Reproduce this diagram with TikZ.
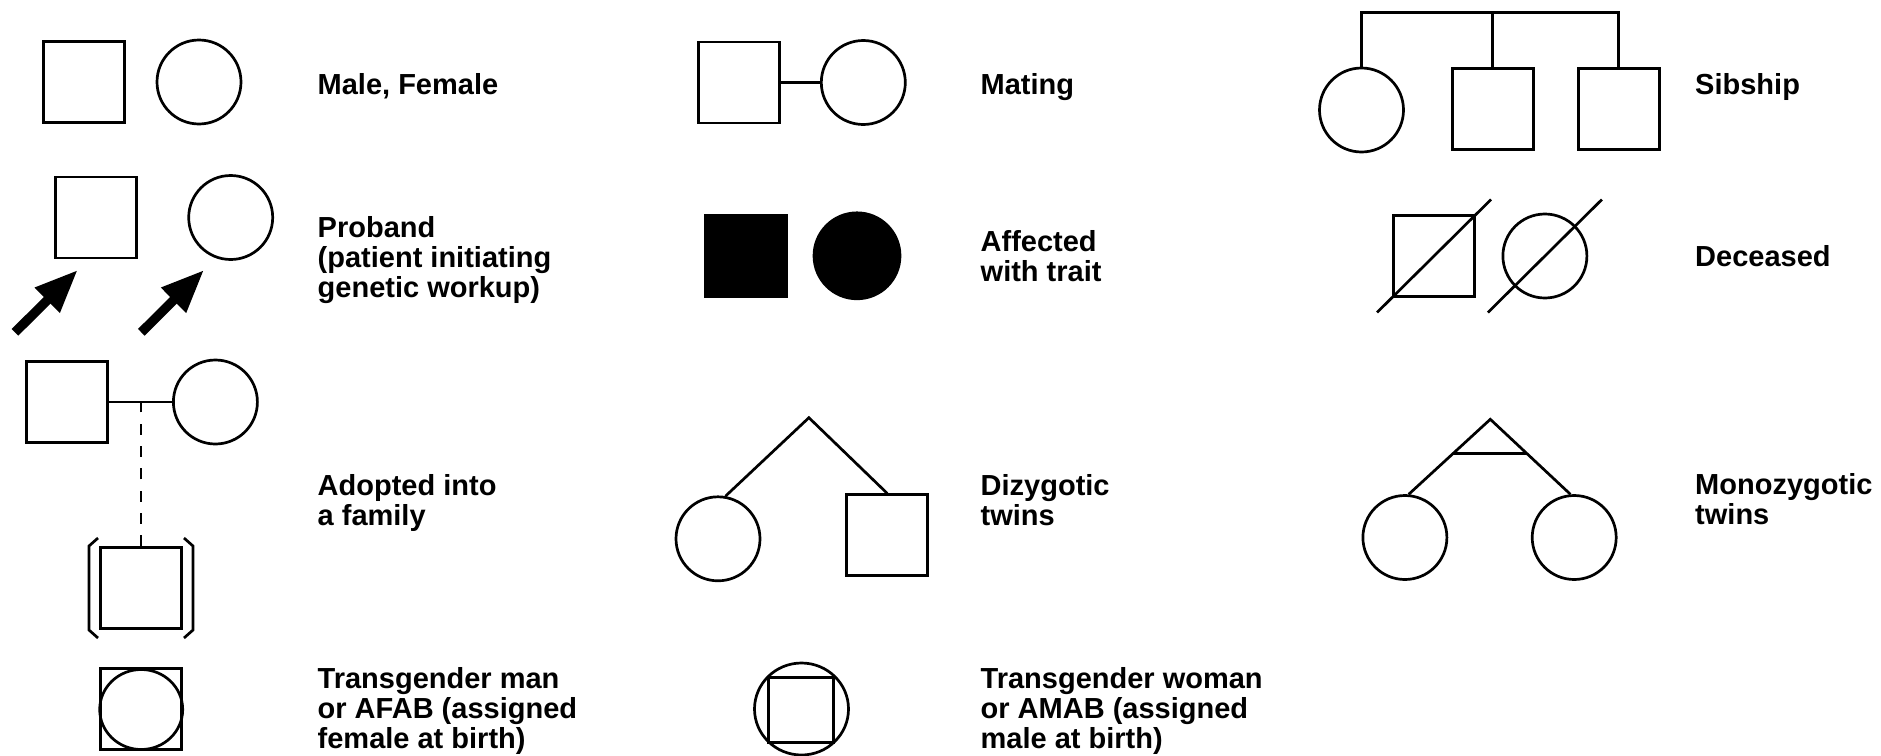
\documentclass[tikz,border=0pt]{standalone}
\usepackage{fontspec}
\setmainfont{Liberation Sans}
\usetikzlibrary{arrows.meta,shapes.geometric,calc}
\begin{document}
\begin{tikzpicture}[x=1pt,y=-1pt,
  lw/.style={line width=2.7pt},
  male/.style={draw,lw,rectangle,minimum width=81pt,minimum height=81pt,inner sep=0pt},
  female/.style={draw,lw,circle,minimum size=84pt,inner sep=0pt},
  aff/.style={fill=black},
  link/.style={lw},
  lbl/.style={anchor=base west,inner sep=0pt,font=\fontsize{29}{30}\selectfont\bfseries},
  proarrow/.style={line width=9.4pt,-{Triangle[length=43pt,width=33pt]}},
]
\useasboundingbox (0,0) rectangle (1881,755);

% ---- Male, Female
\node[male] (m1) at (83.7,82.2) {};
\node[female] (f1) at (199,82) {};
\node[lbl] (t1) at (317.5,94.3) {Male, Female};

% ---- Proband
\node[male] (pm) at (96,217.5) {};
\node[female] (pf) at (230.7,217.5) {};
\coordinate (a1s) at (15,332.3);
\coordinate (a1e) at (77.7,270);
\coordinate (a2s) at (141.3,332.3);
\coordinate (a2e) at (204,270);
\draw[proarrow] (a1s) -- (a1e);
\draw[proarrow] (a2s) -- (a2e);
\node[lbl] (t2) at (317.5,237) {\vtop{\hbox{Proband}\hbox{(patient initiating}\hbox{genetic workup)}}};

% ---- Adopted
\node[male] (am) at (67.3,402) {};
\node[female] (af) at (215.4,402) {};
\draw[link] (am) -- (af);
\coordinate (ac) at (141,402);
\node[male] (ach) at (141,588) {};
\draw[link,dash pattern=on 11pt off 11.3pt] (ach.north) -- (ac);
\draw[lw] ($(ach.center)+(-43,-50)$) -- ++(-9,8) -- ++(0,84) -- ++(9,8);
\draw[lw] ($(ach.center)+(43,-50)$) -- ++(9,8) -- ++(0,84) -- ++(-9,8);
\node[lbl] (t3) at (317.5,495) {\vtop{\hbox{Adopted into}\hbox{a family}}};

% ---- Transgender man
\node[male] (tm) at (141.2,709) {};
\node[draw,lw,ellipse,minimum width=83pt,minimum height=80pt,inner sep=0pt] (tmc) at (141.2,709.5) {};
\node[lbl] (t4) at (317.5,688.5) {\vtop{\hbox{Transgender man}\hbox{or AFAB (assigned}\hbox{female at birth)}}};

% ---- Mating
\node[male] (mm) at (739,82.5) {};
\node[female] (mf) at (863.3,82.5) {};
\draw[link] (mm) -- (mf);
\node[lbl] (t5) at (980.5,94.3) {Mating};

% ---- Affected
\node[male,aff] (fm) at (746,255.8) {};
\node[female,aff,minimum size=86pt] (ff) at (857,255.8) {};
\node[lbl] (t6) at (980.5,251) {\vtop{\hbox{Affected}\hbox{with trait}}};

% ---- Dizygotic
\node[female] (dzf) at (718,538.8) {};
\node[male] (dzm) at (887.2,535.2) {};
\coordinate (dza) at (808.9,417.7);
\draw[link] (dzf.80) -- (dza) -- (dzm.north);
\node[lbl] (t7) at (980.5,495) {\vtop{\hbox{Dizygotic}\hbox{twins}}};

% ---- Transgender woman
\node[draw,lw,ellipse,minimum width=94pt,minimum height=92pt,inner sep=0pt] (tw) at (801.5,709) {};
\node[draw,lw,rectangle,minimum size=65pt,inner sep=0pt] (twm) at (801,710) {};
\node[lbl] (t8) at (980.5,688.5) {\vtop{\hbox{Transgender woman}\hbox{or AMAB (assigned}\hbox{male at birth)}}};

% ---- Sibship
\node[female] (s1) at (1361.5,110) {};
\node[male] (s2) at (1492.7,109.2) {};
\node[male] (s3) at (1618.8,109.2) {};
\coordinate (sb1) at (1361.5,12.7);
\coordinate (sb2) at (1492.7,12.7);
\coordinate (sb3) at (1618.8,12.7);
\draw[link] (s1.north) -- (sb1) -- (sb3) -- (s3.north);
\draw[link] (sb2) -- (s2.north);
\node[lbl] (t9) at (1695,94.3) {Sibship};

% ---- Deceased
\node[male] (dm) at (1434,256) {};
\node[female] (df) at (1544.9,256) {};
\draw[link] ($(dm.center)+(-57,56.5)$) -- ($(dm.center)+(57,-56.5)$);
\draw[link] ($(df.center)+(-57,56.5)$) -- ($(df.center)+(57,-56.5)$);
\node[lbl] (t10) at (1695,266) {Deceased};

% ---- Monozygotic
\node[female] (mz1) at (1404.9,537.5) {};
\node[female] (mz2) at (1574.2,537.5) {};
\coordinate (mza) at (1490.3,419.3);
\draw[link] (mz1.85) -- (mza) -- (mz2.95);
\draw[link] ($(mza)!0.456!(mz1.85)$) -- ($(mza)!0.456!(mz2.95)$);
\node[lbl] (t11) at (1695,494) {\vtop{\hbox{Monozygotic}\hbox{twins}}};
\end{tikzpicture}
\end{document}
